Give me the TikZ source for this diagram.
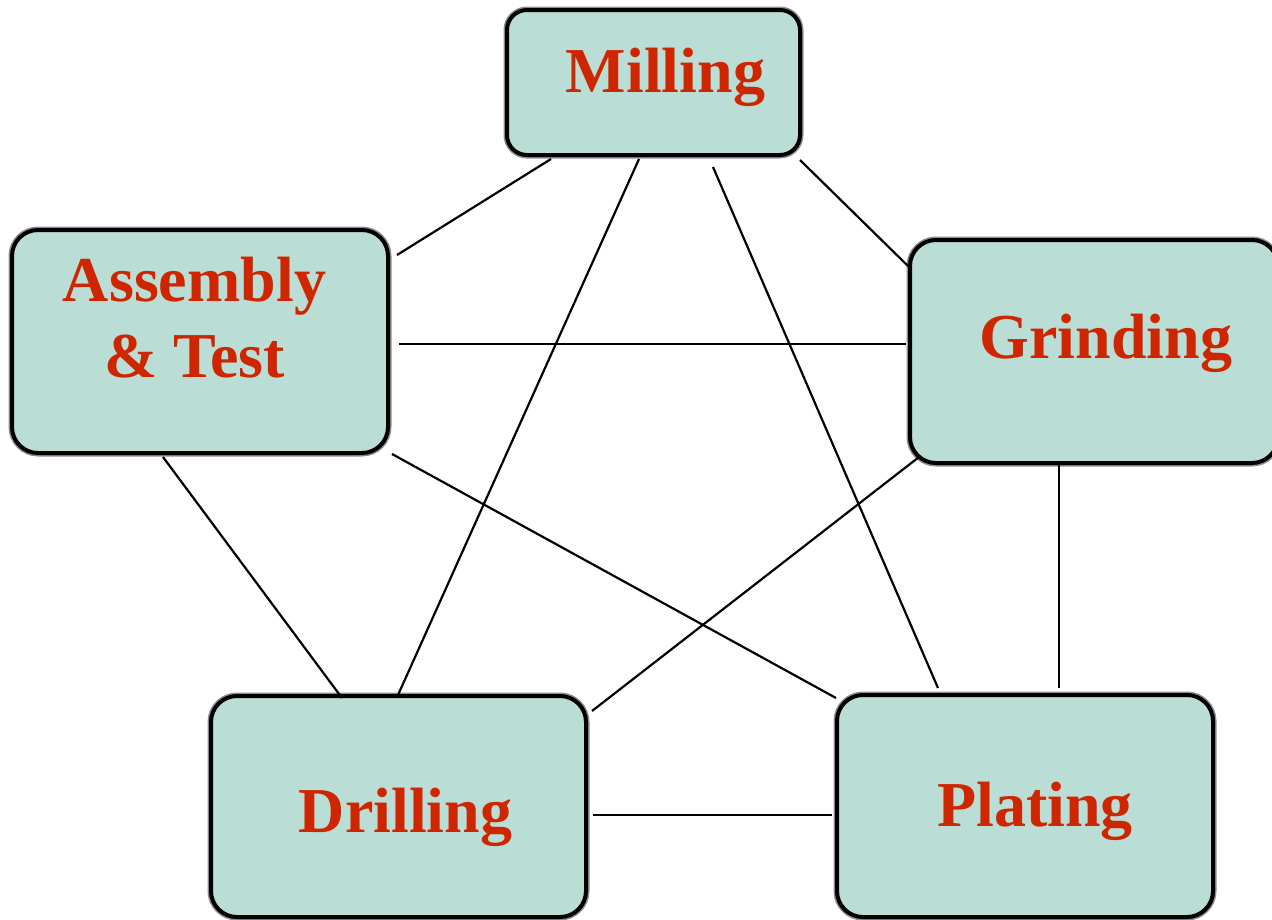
\documentclass[tikz,border=0pt]{standalone}
\usepackage{fontspec}
\setmainfont{Liberation Serif}
\usetikzlibrary{calc}
\definecolor{boxfill}{RGB}{186,221,214}
\definecolor{txtred}{RGB}{206,38,0}
\tikzset{
  station/.style={draw=black, line width=4pt, fill=boxfill, rounded corners=26pt,
    inner sep=0pt, preaction={draw=black!45, line width=7pt}},
  title/.style={text=txtred, anchor=base, inner sep=0pt, align=center,
    font=\bfseries\fontsize{64}{76}\selectfont},
  link/.style={draw=black, line width=2.2pt}
}
\begin{document}
\begin{tikzpicture}[x=1pt, y=-1pt]
\useasboundingbox (0,0) rectangle (1272,919);

% process stations
\node[station, rounded corners=20pt, minimum width=293pt, minimum height=145pt] (mill)  at (653.5,82.5) {};
\node[station, minimum width=376pt, minimum height=223pt] (asm)   at (200,341.5) {};
\node[station, minimum width=368pt, minimum height=223pt] (grind) at (1094,351.5) {};
\node[station, minimum width=375pt, minimum height=221pt] (drill) at (398.5,806.5) {};
\node[station, minimum width=376pt, minimum height=222pt] (plat)  at (1025,806) {};

% station names
\node[title] (tmill)  at (665.5,92)  {Milling};
\node[title] (tasm)   at (194.5,377) {Assembly\\\& Test};
\node[title] (tgrind) at (1106,358)  {Grinding};
\node[title] (tdrill) at (405.5,832) {Drilling};
\node[title] (tplat)  at (1035,826)  {Plating};

% links between stations
\draw[link] ($(mill.south west)+(46,2)$)   -- ($(asm.north east)+(7,27)$);
\draw[link] ($(mill.south west)+(134,2)$)  -- ($(drill.north west)+(189,1)$);
\draw[link] ($(mill.south west)+(208,10)$) -- ($(plat.north west)+(103,-5)$);
\draw[link] ($(mill.south east)+(-2,3)$)   -- ($(grind.north west)+(0,28)$);
\draw[link] ($(asm.east)+(9,2.5)$)         -- ($(grind.west)+(-2,-7.5)$);
\draw[link] ($(asm.south east)+(2,-1)$)    -- ($(plat.north west)+(1,5)$);
\draw[link] ($(asm.south west)+(153,2)$)   -- ($(drill.north west)+(133,4)$);
\draw[link] ($(grind.south west)+(11,-8)$) -- ($(drill.north east)+(4,17)$);
\draw[link] ($(grind.south west)+(151,-4)$) -- ($(plat.north west)+(224,-5)$);
\draw[link] ($(drill.east)+(5,8.5)$)       -- ($(plat.west)+(-3,9)$);
\end{tikzpicture}
\end{document}
